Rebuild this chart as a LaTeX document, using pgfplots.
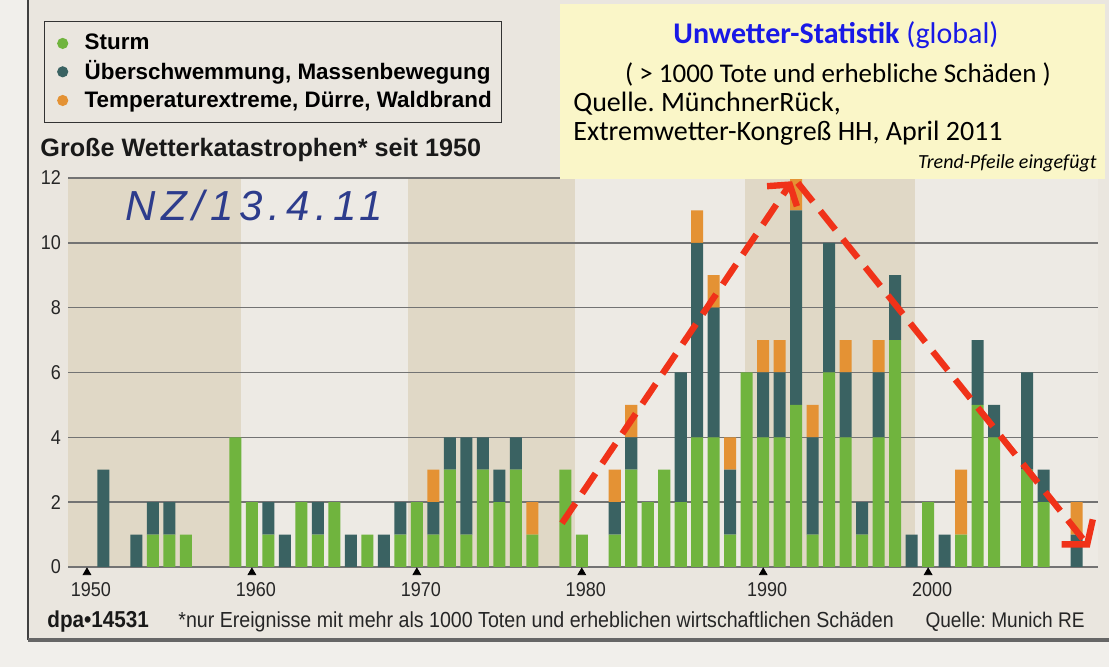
\documentclass[border=0pt]{standalone}
\usepackage{fontspec}
\setmainfont{Liberation Sans}
\newfontfamily\carlito{Carlito}
\newfontfamily\narrow[FakeStretch=0.9]{Liberation Sans}
\usepackage{pgfplots}
\pgfplotsset{compat=1.18}
\usepackage{pgfplotstable}
\usetikzlibrary{arrows.meta}
\frenchspacing

\definecolor{paper}{RGB}{234,230,223}
\definecolor{paperl}{RGB}{241,239,235}
\definecolor{band}{RGB}{224,216,198}
\definecolor{lightbg}{RGB}{237,234,228}
\definecolor{gsturm}{RGB}{112,180,62}
\definecolor{bflut}{RGB}{58,98,98}
\definecolor{otemp}{RGB}{228,146,52}
\definecolor{boxyellow}{RGB}{250,246,200}
\definecolor{tblue}{RGB}{25,25,230}
\definecolor{arrowred}{RGB}{240,50,25}
\definecolor{hand}{RGB}{45,60,140}

\pgfplotstableread{
s g b o
1 0 3 0
3 0 1 0
4 1 1 0
5 1 1 0
6 1 0 0
9 4 0 0
10 2 0 0
11 1 1 0
12 0 1 0
13 2 0 0
14 1 1 0
15 2 0 0
16 0 1 0
17 1 0 0
18 0 1 0
19 1 1 0
20 2 0 0
21 1 1 1
22 3 1 0
23 1 3 0
24 3 1 0
25 2 1 0
26 3 1 0
27 1 0 1
29 3 0 0
30 1 0 0
32 1 1 1
33 3 1 1
34 2 0 0
35 3 0 0
36 2 4 0
37 4 6 1
38 4 4 1
39 1 2 1
40 6 0 0
41 4 2 1
42 4 2 1
43 5 6 1
44 1 3 1
45 6 4 0
46 4 2 1
47 1 1 0
48 4 2 1
49 7 2 0
50 0 1 0
51 2 0 0
52 0 1 0
53 1 0 2
54 5 2 0
55 4 1 0
57 3 3 0
58 2 1 0
60 0 1 1
}\data

\begin{document}
\begin{tikzpicture}
\path[use as bounding box, fill=paper] (0,0) rectangle (554.5pt,-333.5pt);
\fill[paperl] (0,0) rectangle (14pt,-333.5pt);
\fill[paperl] (0,-320pt) rectangle (554.5pt,-333.5pt);
\draw[line width=1pt, black!75] (14pt,0) -- (14pt,-320pt);
\draw[line width=1.6pt, black!60] (14pt,-320pt) -- (554.5pt,-320pt);

% decade shading behind the plot area
\fill[lightbg] (34pt,-89pt) rectangle (549pt,-283.5pt);
\fill[band] (34pt,-89pt) rectangle (120.5pt,-283.5pt);
\fill[band] (204pt,-89pt) rectangle (287.5pt,-283.5pt);
\fill[band] (372.5pt,-89pt) rectangle (457.5pt,-283.5pt);

\begin{axis}[
  at={(34pt,-283.5pt)}, anchor=south west,
  width=515pt, height=194.5pt, scale only axis,
  xmin=-1.15, xmax=61.3, ymin=0, ymax=12,
  axis line style={draw=none},
  ytick={0,2,...,12},
  ymajorgrids, grid style={black!55, line width=0.7pt},
  xtick={0,10,20,30,41,51},
  xticklabels={1950,1960,1970,1980,1990,2000},
  tick style={draw=none},
  ticklabel style={font=\narrow\fontsize{10}{11}\selectfont, text=black!85},
  xticklabel style={xshift=2pt, yshift=-4pt},
  /pgf/number format/assume math mode=true,
  clip=false,
  ybar stacked, bar width=0.73,
  legend style={at={(-0.0233,1.4036)}, anchor=north west,
    draw=black!80, line width=0.7pt, fill=none,
    font=\bfseries\fontsize{11.2}{12}\selectfont,
    inner xsep=3pt, inner ysep=4.2pt, row sep=0pt,
    cells={anchor=west}},
  legend cell align=left,
]
\addplot[fill=gsturm, draw=none,
  legend image code/.code={\fill[gsturm] (6pt,0pt) circle (2.8pt); \path (0pt,0pt) (15pt,0pt);}]
  table[x=s, y=g] {\data};
\addlegendentry{Sturm}
\addplot[fill=bflut, draw=none,
  legend image code/.code={\fill[bflut] (6pt,0pt) circle (2.8pt); \path (0pt,0pt) (15pt,0pt);}]
  table[x=s, y=b] {\data};
\addlegendentry{Überschwemmung, Massenbewegung}
\addplot[fill=otemp, draw=none,
  legend image code/.code={\fill[otemp] (6pt,0pt) circle (2.8pt); \path (0pt,0pt) (15pt,0pt);}]
  table[x=s, y=o] {\data};
\addlegendentry{Temperaturextreme, Dürre, Waldbrand}

\addplot[forget plot, stack plots=false, sharp plot, only marks,
  mark=triangle*, mark size=2.2pt, black]
  coordinates {(0,-0.17) (10,-0.17) (20,-0.17) (30,-0.17) (41,-0.17) (51,-0.17)};

\coordinate (a1s) at (axis cs:28.8,1.35);
\coordinate (a1e) at (axis cs:42.75,11.9);
\coordinate (a2s) at (axis cs:43.1,11.85);
\coordinate (a2e) at (axis cs:60.8,0.6);
\end{axis}

% title of the chart
\node[anchor=west, font=\bfseries\fontsize{12.6}{13}\selectfont, text=black!90, inner sep=0pt]
  at (20pt,-75pt) {Große Wetterkatastrophen* seit 1950};

% handwritten note
\node[font=\itshape\fontsize{21}{21}\selectfont\addfontfeatures{LetterSpace=14}, text=hand]
  at (127pt,-102.5pt) {NZ/13.4.11};

% yellow info box
\fill[boxyellow] (280pt,-2pt) rectangle (552.5pt,-89.5pt);
\node[font=\carlito\fontsize{15}{16}\selectfont, text=tblue]
  at (418pt,-17.5pt) {\textbf{Unwetter-Statistik} (global)};
\node[font=\carlito\fontsize{13.5}{14}\selectfont]
  at (419pt,-37.5pt) {( > 1000 Tote und erhebliche Schäden )};
\node[anchor=west, inner sep=0pt, font=\carlito\fontsize{14}{15}\selectfont]
  at (286.5pt,-52pt) {Quelle. MünchnerRück,};
\node[anchor=west, inner sep=0pt, font=\carlito\fontsize{14}{15}\selectfont]
  at (286.5pt,-66.5pt) {Extremwetter-Kongreß HH, April 2011};
\node[anchor=east, inner sep=0pt, font=\carlito\itshape\fontsize{10}{11}\selectfont]
  at (548.5pt,-81.5pt) {Trend-Pfeile eingefügt};

% trend arrows
\draw[arrowred, line width=3.2pt, dash pattern=on 12pt off 6pt,
  -{Straight Barb[length=7pt, width=18pt]}] (a1s) -- (a1e);
\draw[arrowred, line width=3.2pt, dash pattern=on 12pt off 6pt,
  -{Straight Barb[length=8pt, width=20pt]}] (a2s) -- (a2e);

% footer
\node[anchor=west, inner sep=0pt, font=\narrow\bfseries\fontsize{11.5}{12}\selectfont, text=black!90]
  at (23.5pt,-311pt) {dpa•14531};
\node[anchor=west, inner sep=0pt, font=\narrow\fontsize{10.9}{11}\selectfont, text=black!85]
  at (89pt,-311pt) {*nur Ereignisse mit mehr als 1000 Toten und erheblichen wirtschaftlichen Schäden};
\node[anchor=east, inner sep=0pt, font=\narrow\fontsize{10.6}{11}\selectfont, text=black!85]
  at (542.5pt,-311pt) {Quelle: Munich RE};
\end{tikzpicture}
\end{document}
